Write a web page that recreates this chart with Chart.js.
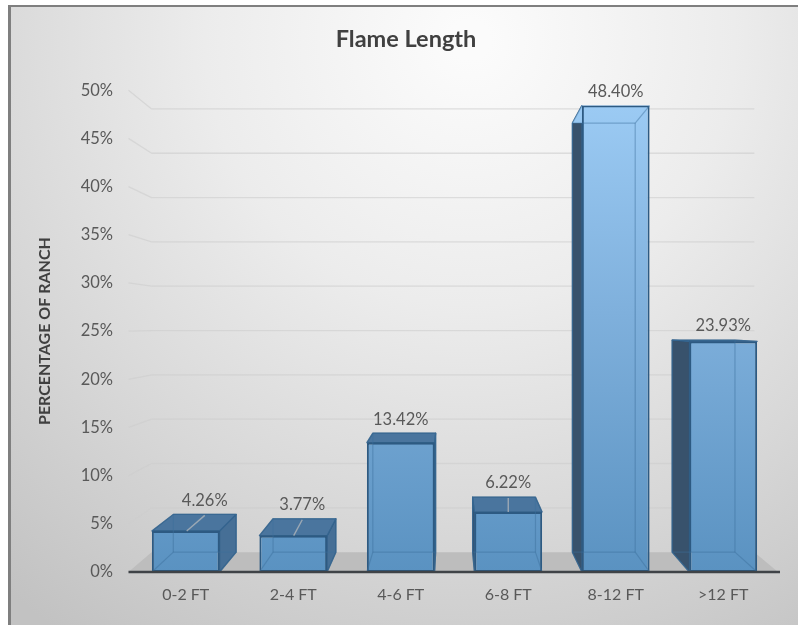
<!DOCTYPE html>
<html><head><meta charset="utf-8">
<style>html,body{margin:0;padding:0;background:#fff}canvas{display:block}</style>
<script src="https://cdn.jsdelivr.net/npm/chart.js@4"></script>
</head><body><canvas id="c" width="798" height="625"></canvas>
<script>
const categories = ["0-2 FT","2-4 FT","4-6 FT","6-8 FT","8-12 FT",">12 FT"];
const percentages = [4.26,3.77,13.42,6.22,48.40,23.93];
const yTicks = [0,5,10,15,20,25,30,35,40,45,50];
const chartTitle = "Flame Length";
const yTitle = "PERCENTAGE OF RANCH";
const labelShift = [19,9,0,0,0,0];
const hasLeader = [true,true,false,true,false,false];

const VP = {x:449.4,y:324,kx:0.928,ky:0.92};
const back = (x,y)=>[VP.x+(x-VP.x)*VP.kx, VP.y+(y-VP.y)*VP.ky];
function poly(ctx,pts,fill,stroke,lw){
  ctx.beginPath();pts.forEach((p,i)=>i?ctx.lineTo(p[0],p[1]):ctx.moveTo(p[0],p[1]));ctx.closePath();
  if(fill){ctx.fillStyle=fill;ctx.fill();}
  if(stroke){ctx.strokeStyle=stroke;ctx.lineWidth=lw||1;ctx.lineJoin='round';ctx.stroke();}
}
function line(ctx,a,b,c,w){ctx.beginPath();ctx.moveTo(a[0],a[1]);ctx.lineTo(b[0],b[1]);ctx.strokeStyle=c;ctx.lineWidth=w;ctx.stroke();}
function barGrad(ctx,area){
  const g=ctx.createLinearGradient(0,100,0,area.bottom);
  g.addColorStop(0,'#9ccbf4');g.addColorStop(0.45,'#7fb0dc');g.addColorStop(1,'#5a92c1');return g;
}
const scene={
  id:'scene',
  beforeDraw(chart){
    const {ctx,width,height}=chart;
    ctx.save();
    ctx.fillStyle='#fff';ctx.fillRect(0,0,width,height);
    const g=ctx.createRadialGradient(470,40,20,470,40,720);
    g.addColorStop(0,'#fbfbfb');g.addColorStop(0.35,'#ececec');g.addColorStop(0.7,'#d6d6d6');g.addColorStop(1,'#c2c2c2');
    ctx.fillStyle=g;ctx.fillRect(9,6,width-9,height-6);
    ctx.fillStyle='#7f7f7f';ctx.fillRect(8,5,width-8,2);ctx.fillRect(8,5,3,height-5);
    ctx.restore();
  },
  beforeDatasetsDraw(chart){
    const {ctx,scales:{x,y},chartArea:a}=chart;
    const y0=y.getPixelForValue(0), L=128.5, R=778;
    ctx.save();
    // floor
    poly(ctx,[[L,y0],back(L,y0),back(R,y0),[R,y0]],'#bdbdbd');
    // back wall grid with side wall diagonals
    yTicks.forEach(t=>{
      if(t===0) return;
      const py=y.getPixelForValue(t), b1=back(L,py), b2=back(R,py);
      ctx.lineJoin='round';
      ctx.beginPath();ctx.moveTo(L,py);ctx.lineTo(b1[0],b1[1]);ctx.lineTo(b2[0],b2[1]);
      ctx.strokeStyle='rgba(205,205,205,0.6)';ctx.lineWidth=1.3;ctx.stroke();
    });
    const g=barGrad(ctx,a), edge='rgba(45,90,130,0.85)';
    chart.getDatasetMeta(0).data.forEach(el=>{
      const hw=el.width/2, x1=el.x-hw, x2=el.x+hw, t=el.y, b=y0;
      const bl=back(x1,t), br=back(x2,t), bbl=back(x1,b), bbr=back(x2,b);
      // back panel and floor panel
      poly(ctx,[bl,br,bbr,bbl],g);
      // side faces
      if(bl[0]<x1-0.5) poly(ctx,[[x1,t],bl,bbl,[x1,b]],'#38526c',edge,1.2);
      if(br[0]>x2+0.5) poly(ctx,[[x2,t],br,bbr,[x2,b]],'#466f96',edge,1.2);
      // top or underside
      if(bl[1]<t-0.5) poly(ctx,[[x1,t],bl,br,[x2,t]],'#4a759e',edge,1.2);
      else poly(ctx,[[x1,t],bl,br,[x2,t]],g);
    });
    ctx.restore();
  },
  afterDatasetsDraw(chart){
    const {ctx,scales:{y}}=chart;
    const y0=y.getPixelForValue(0);
    ctx.save();
    const meta=chart.getDatasetMeta(0);
    // see-through inner edges
    meta.data.forEach(el=>{
      const hw=el.width/2, x1=el.x-hw, x2=el.x+hw, t=el.y;
      const bl=back(x1,t), br=back(x2,t), bbl=back(x1,y0), bbr=back(x2,y0);
      const c='rgba(60,110,155,0.45)';
      line(ctx,bl,br,c,1.2);line(ctx,bl,bbl,c,1.2);line(ctx,br,bbr,c,1.2);line(ctx,bbl,bbr,c,1.2);
      line(ctx,[x1,y0],bbl,c,1.2);line(ctx,[x2,y0],bbr,c,1.2);
      line(ctx,[x1,t],bl,c,1.2);line(ctx,[x2,t],br,c,1.2);
    });
    // axis base
    line(ctx,[128.5,y0],[780,y0],'#3f4347',2.4);
    // labels
    ctx.font='16.5px Lato';ctx.fillStyle='#595959';ctx.textAlign='center';ctx.textBaseline='middle';
    meta.data.forEach((el,i)=>{
      const t=el.y, top=Math.min(t,back(el.x,t)[1]);
      const lx=el.x+labelShift[i], ly=top-14;
      if(hasLeader[i]) line(ctx,[el.x+labelShift[i]*0.05,t],[lx,top+1],'rgba(190,190,190,0.7)',1.4);
      ctx.fillText(percentages[i].toFixed(2)+'%',lx,ly);
    });
    ctx.restore();
  }
};
new Chart(document.getElementById('c'),{
  type:'bar',
  plugins:[scene],
  data:{labels:categories,datasets:[{
    data:percentages,
    backgroundColor(c){const a=c.chart.chartArea;return a?barGrad(c.chart.ctx,a):'#6fa3d0';},
    borderColor:'#2d5a82',borderWidth:2,borderSkipped:false,
    categoryPercentage:1,barPercentage:0.63
  }]},
  options:{
    responsive:false,animation:false,
    layout:{padding:{left:35,right:21,top:0,bottom:0}},
    plugins:{
      legend:{display:false},tooltip:{enabled:false},
      title:{display:true,text:chartTitle,color:'#404040',font:{family:'Lato',size:23.5,weight:'bold'},padding:{top:25,bottom:37}}
    },
    scales:{
      x:{grid:{display:false},border:{display:false},
        ticks:{color:'#595959',font:{family:'Lato',size:16},padding:5,maxRotation:0},
        afterFit(s){s.height=53;}},
      y:{min:0,max:50,position:'left',grid:{display:false},border:{display:false},
        afterBuildTicks(s){s.ticks=yTicks.map(v=>({value:v}));},
        ticks:{color:'#595959',font:{family:'Lato',size:16.5},padding:11,callback:v=>v+'%'},
        title:{display:true,text:yTitle,color:'#404040',font:{family:'Lato',size:16,weight:'bold'},padding:{top:0,bottom:0}},
        afterFit(s){s.width=97;}}
    }
  }
});
</script></body></html>
